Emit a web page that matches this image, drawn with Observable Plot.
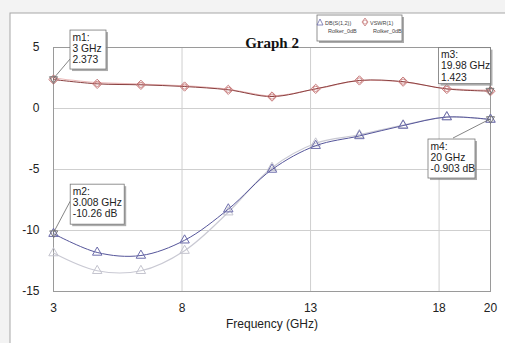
<!DOCTYPE html>
<html>
<head>
<meta charset="utf-8">
<script src="https://cdn.jsdelivr.net/npm/d3@7"></script>
<script src="https://cdn.jsdelivr.net/npm/@observablehq/plot@0.6"></script>
<style>
  html, body { margin: 0; padding: 0; background: #f3f3f3; }
  svg { display: block; }
</style>
</head>
<body>
<script>
// ---- data ----
const freq    = [3, 4.7, 6.4, 8.1, 9.8, 11.5, 13.2, 14.9, 16.6, 18.3, 20];
const dbS12   = [-10.26, -11.8, -12.05, -10.8, -8.25, -5.0, -3.05, -2.25, -1.4, -0.7, -0.903];
const dbS12b  = [-11.85, -13.3, -13.3, -11.65, -8.5, -4.85, -2.85, -2.15, -1.35, -0.7, -0.9];
const vswr    = [2.373, 2.02, 1.94, 1.8, 1.53, 0.98, 1.61, 2.3, 2.2, 1.6, 1.423];
const vswrB   = [2.5, 2.12, 2.0, 1.86, 1.58, 1.02, 1.6, 2.28, 2.18, 1.63, 1.5];
const xTicks  = [3, 8, 13, 18, 20];
const yTicks  = [5, 0, -5, -10, -15];
const xGrid   = [8, 13, 18];
const yGrid   = [0, -5, -10];
const markerNames = ["m1", "m2", "m3", "m4"];
const markerFreq  = [3, 3.008, 19.98, 20];
const markerVal   = [2.373, -10.26, 1.423, -0.903];
const markerText  = [["m1:", "3 GHz", "2.373"], ["m2:", "3.008 GHz", "-10.26 dB"],
                     ["m3:", "19.98 GHz", "1.423"], ["m4:", "20 GHz", "-0.903 dB"]];
const legendNames = ["DB(S(1,2))", "VSWR(1)"];
const legendSub   = ["Rolker_0dB", "Rolker_0dB"];
const title = "Graph 2";
const xLabel = "Frequency (GHz)";

// ---- build tables ----
const tS12  = freq.map((f, i) => ({f, v: dbS12[i]}));
const tS12b = freq.map((f, i) => ({f, v: dbS12b[i]}));
const tV    = freq.map((f, i) => ({f, v: vswr[i]}));
const tVb   = freq.map((f, i) => ({f, v: vswrB[i]}));
const tM    = markerNames.map((n, i) => ({n, f: markerFreq[i], v: markerVal[i], text: markerText[i]}));

const triDown = {
  draw(ctx, size) {
    const r = Math.sqrt(size / Math.PI);
    ctx.moveTo(-r, -r * 0.7);
    ctx.lineTo(r, -r * 0.7);
    ctx.lineTo(0, r);
    ctx.closePath();
  }
};

const chart = Plot.plot({
  width: 505,
  height: 343,
  marginLeft: 53,
  marginRight: 15,
  marginTop: 47,
  marginBottom: 52,
  style: {fontFamily: "'Liberation Sans', Arial, sans-serif", fontSize: "12px", color: "#222", background: "transparent"},
  x: {domain: [3, 20], ticks: xTicks, tickSize: 0, tickPadding: 12, label: null, tickFormat: d => String(d)},
  y: {domain: [-15, 5], ticks: yTicks, tickSize: 0, tickPadding: 14, label: null, tickFormat: d => String(d)},
  marks: [
    Plot.ruleX(xGrid, {stroke: "#cfcfcf", strokeWidth: 1}),
    Plot.ruleY(yGrid, {stroke: "#cfcfcf", strokeWidth: 1}),
    Plot.frame({stroke: "#9a9a9a"}),
    // light companion curves
    Plot.line(tS12b, {x: "f", y: "v", curve: "catmull-rom", stroke: "#c9c9d3", strokeWidth: 1.2}),
    Plot.dot(tS12b, {x: "f", y: "v", symbol: "triangle2", r: 4.5, stroke: "#c4c4ce", strokeWidth: 1}),
    Plot.line(tVb, {x: "f", y: "v", curve: "catmull-rom", stroke: "#eab9b9", strokeWidth: 1.2}),
    // main curves
    Plot.line(tS12, {x: "f", y: "v", curve: "catmull-rom", stroke: "#55559a", strokeWidth: 1}),
    Plot.dot(tS12, {x: "f", y: "v", symbol: "triangle2", r: 4.5, stroke: "#6c6cab", strokeWidth: 1}),
    Plot.line(tV, {x: "f", y: "v", curve: "catmull-rom", stroke: "#8a4040", strokeWidth: 1}),
    Plot.dot(tV, {x: "f", y: "v", symbol: "diamond2", r: 4.2, stroke: "#c77a7a", strokeWidth: 1}),
    Plot.dot(tV, {x: "f", y: "v", r: 2.6, stroke: "#c77a7a", strokeWidth: 0.9}),
    // marker symbols
    Plot.dot(tM, {x: "f", y: "v", symbol: triDown, r: 4, stroke: "#777", strokeWidth: 1}),
    // title & axis label
    Plot.text([title], {frameAnchor: "top", dy: -10, fontFamily: "'Liberation Serif', 'Times New Roman', serif", fontWeight: "bold", fontSize: 15, fill: "#111"}),
    Plot.text([xLabel], {frameAnchor: "bottom", dy: 36, fontSize: 12, fill: "#222"})
  ]
});

document.body.appendChild(chart);

const svg = d3.select(chart);
const xs = chart.scale("x"), ys = chart.scale("y");

// outer window frame
svg.insert("rect", ":first-child")
  .attr("x", 10).attr("y", 13).attr("width", 500).attr("height", 340)
  .attr("fill", "#fff").attr("stroke", "#a8a8a8");

// marker annotation layout (pixel offsets from marker point)
const boxLayout = [
  {dx: 17, dy: -49, w: 36, h: 39, lx: 17, ly: -20},
  {dx: 17, dy: -49, w: 54, h: 40, lx: 17, ly: -32},
  {dx: -51, dy: -43, w: 52, h: 36, lx: 1, ly: -8},
  {dx: -62, dy: 20, w: 47, h: 39, lx: -37, ly: 19}
];
const ann = svg.append("g")
  .attr("font-family", "'Liberation Sans', Arial, sans-serif")
  .attr("font-size", 10.3)
  .attr("text-anchor", "start");
tM.forEach((m, i) => {
  const px = xs.apply(m.f), py = ys.apply(m.v), L = boxLayout[i];
  const bx = px + L.dx, by = py + L.dy;
  ann.append("line").attr("x1", px).attr("y1", py).attr("x2", px + L.lx).attr("y2", py + L.ly)
    .attr("stroke", "#666").attr("stroke-width", 0.8);
  ann.append("rect").attr("x", bx + 2).attr("y", by + 2).attr("width", L.w).attr("height", L.h)
    .attr("fill", "#8a8a8a").attr("opacity", 0.7);
  ann.append("rect").attr("x", bx).attr("y", by).attr("width", L.w).attr("height", L.h)
    .attr("fill", "#fff").attr("stroke", "#777").attr("stroke-width", 0.8);
  m.text.forEach((t, j) => {
    ann.append("text").attr("x", bx + 2.5).attr("y", by + 10.5 + j * 11.3)
      .attr("text-anchor", "start").attr("fill", "#222").text(t);
  });
});

// legend box
const lg = svg.append("g").attr("font-family", "'Liberation Sans', Arial, sans-serif").attr("text-anchor", "start");
const lx0 = 317, ly0 = 15, lw = 85, lh = 26;
lg.append("rect").attr("x", lx0 + 2).attr("y", ly0 + 2).attr("width", lw).attr("height", lh).attr("fill", "#888").attr("opacity", 0.7);
lg.append("rect").attr("x", lx0).attr("y", ly0).attr("width", lw).attr("height", lh).attr("fill", "#fff").attr("stroke", "#777").attr("stroke-width", 0.8);
const legendX = [320, 365];
legendNames.forEach((n, i) => {
  const ix = legendX[i];
  if (i === 0) {
    lg.append("path").attr("d", `M${ix-3},${ly0+10}L${ix+3},${ly0+10}L${ix},${ly0+4}Z`).attr("fill", "none").attr("stroke", "#6c6cab").attr("stroke-width", 0.8);
  } else {
    lg.append("path").attr("d", `M${ix},${ly0+3}L${ix+3},${ly0+7}L${ix},${ly0+11}L${ix-3},${ly0+7}Z`).attr("fill", "none").attr("stroke", "#c77a7a").attr("stroke-width", 0.8);
    lg.append("circle").attr("cx", ix).attr("cy", ly0 + 7).attr("r", 2).attr("fill", "none").attr("stroke", "#c77a7a").attr("stroke-width", 0.7);
  }
  lg.append("text").attr("x", ix + 5).attr("y", ly0 + 10).attr("text-anchor", "start").attr("font-size", 5.5).attr("fill", "#444").text(n);
  lg.append("text").attr("x", ix + 8).attr("y", ly0 + 18).attr("text-anchor", "start").attr("font-size", 5.5).attr("fill", "#444").text(legendSub[i]);
});
</script>
</body>
</html>
